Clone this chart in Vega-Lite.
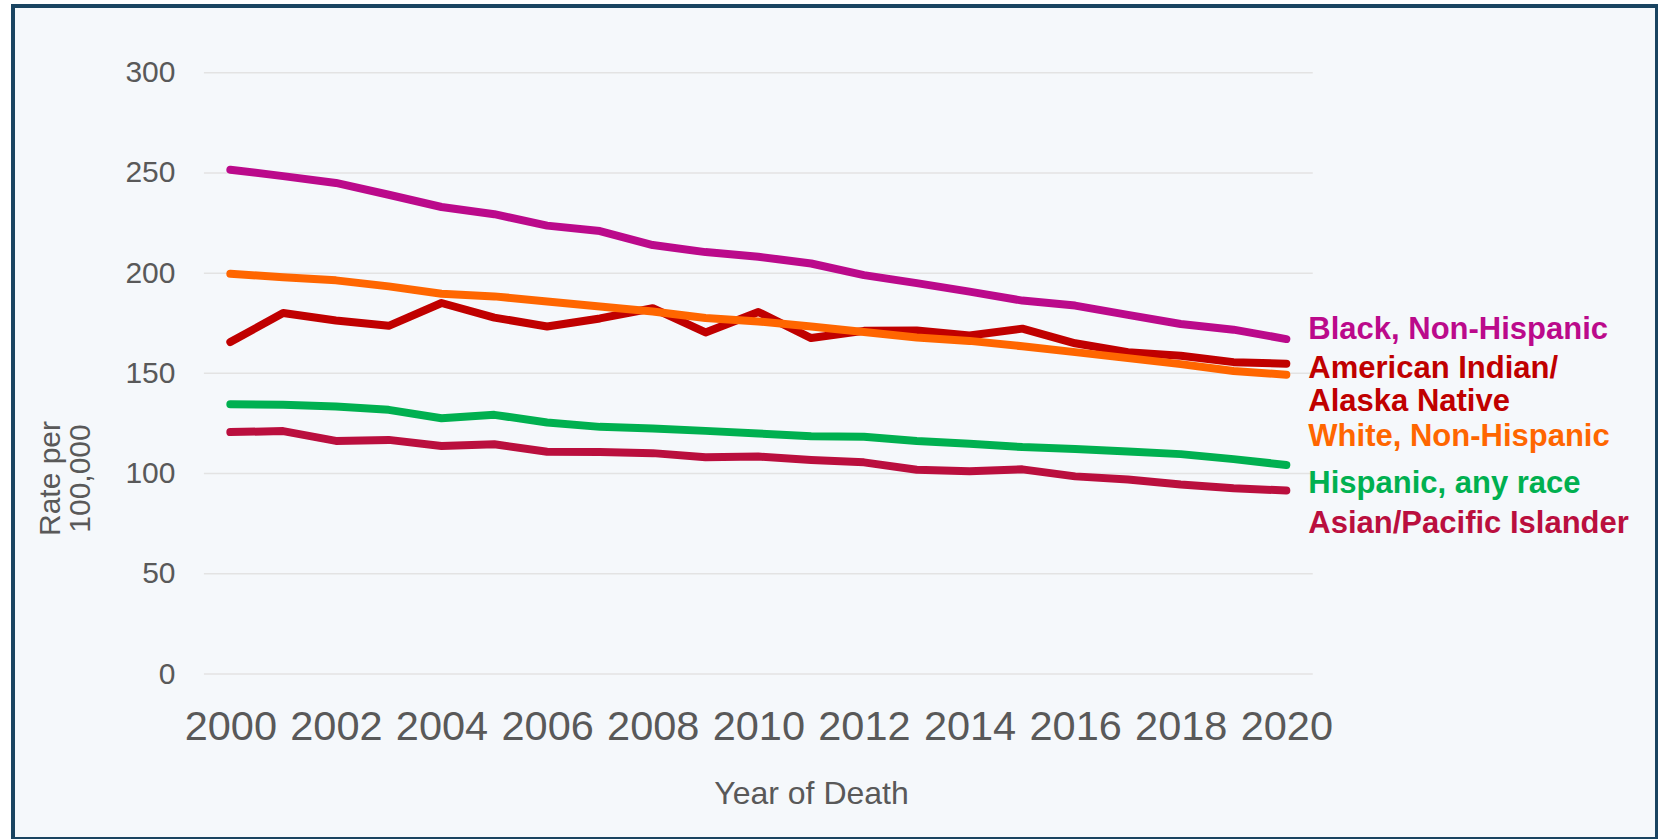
{
  "$schema": "https://vega.github.io/schema/vega-lite/v6.json",
  "width": 1644,
  "height": 833,
  "autosize": {"type": "none"},
  "padding": {"left": 13, "top": 6, "right": 1, "bottom": 0},
  "background": "#ffffff",
  "config": {
    "view": {"fill": "#F5F8FB", "stroke": "#1A4461", "strokeWidth": 4},
    "font": "Liberation Sans"
  },
  "datasets": {
    "rates": [
      {"year": 2000, "asian": 120.7, "hisp": 134.6, "aian": 165.6, "white": 199.7, "black": 251.6},
      {"year": 2001, "asian": 121.2, "hisp": 134.3, "aian": 180.1, "white": 197.9, "black": 248.4},
      {"year": 2002, "asian": 116.3, "hisp": 133.5, "aian": 176.4, "white": 196.4, "black": 245.0},
      {"year": 2003, "asian": 116.8, "hisp": 131.8, "aian": 173.7, "white": 193.4, "black": 239.1},
      {"year": 2004, "asian": 113.8, "hisp": 127.6, "aian": 185.1, "white": 189.7, "black": 233.0},
      {"year": 2005, "asian": 114.6, "hisp": 129.3, "aian": 177.8, "white": 188.4, "black": 229.4},
      {"year": 2006, "asian": 110.9, "hisp": 125.5, "aian": 173.4, "white": 185.9, "black": 223.7},
      {"year": 2007, "asian": 110.7, "hisp": 123.3, "aian": 177.4, "white": 183.4, "black": 221.0},
      {"year": 2008, "asian": 110.2, "hisp": 122.5, "aian": 182.5, "white": 180.9, "black": 214.0},
      {"year": 2009, "asian": 108.1, "hisp": 121.3, "aian": 170.4, "white": 177.6, "black": 210.5},
      {"year": 2010, "asian": 108.5, "hisp": 120.0, "aian": 180.6, "white": 175.9, "black": 208.2},
      {"year": 2011, "asian": 106.8, "hisp": 118.6, "aian": 167.6, "white": 173.4, "black": 204.8},
      {"year": 2012, "asian": 105.6, "hisp": 118.4, "aian": 171.2, "white": 170.6, "black": 199.0},
      {"year": 2013, "asian": 101.9, "hisp": 116.2, "aian": 171.4, "white": 167.9, "black": 195.0},
      {"year": 2014, "asian": 101.2, "hisp": 114.9, "aian": 168.9, "white": 166.2, "black": 190.8},
      {"year": 2015, "asian": 102.1, "hisp": 113.2, "aian": 172.3, "white": 163.5, "black": 186.3},
      {"year": 2016, "asian": 98.6, "hisp": 112.2, "aian": 165.0, "white": 160.6, "black": 183.8},
      {"year": 2017, "asian": 97.0, "hisp": 111.0, "aian": 160.5, "white": 157.6, "black": 179.2},
      {"year": 2018, "asian": 94.5, "hisp": 109.7, "aian": 158.8, "white": 154.6, "black": 174.6},
      {"year": 2019, "asian": 92.7, "hisp": 107.2, "aian": 155.6, "white": 151.2, "black": 171.8},
      {"year": 2020, "asian": 91.5, "hisp": 104.3, "aian": 154.8, "white": 149.3, "black": 167.1}
    ],
    "grid": [{"v": 0}, {"v": 50}, {"v": 100}, {"v": 150}, {"v": 200}, {"v": 250}, {"v": 300}]
  },
  "layer": [
    {
      "data": {"name": "grid"},
      "mark": {"type": "rule", "color": "#E3E3E3", "strokeWidth": 1.5},
      "encoding": {
        "y": {"field": "v", "type": "quantitative", "scale": {"domain": [-82.32, 333.28], "nice": false, "zero": false}},
        "x": {"datum": 1999.5, "type": "quantitative", "scale": {"domain": [1995.884, 2027.02], "nice": false, "zero": false}},
        "x2": {"datum": 2020.5}
      }
    },
    {
      "data": {"name": "rates"},
      "transform": [{"fold": ["asian", "hisp", "aian", "white", "black"], "as": ["series", "rate"]}],
      "mark": {"type": "line", "strokeWidth": 8, "strokeCap": "round", "strokeJoin": "round"},
      "encoding": {
        "x": {
          "field": "year", "type": "quantitative",
          "scale": {"domain": [1995.884, 2027.02], "nice": false, "zero": false},
          "axis": {
            "values": [2000, 2002, 2004, 2006, 2008, 2010, 2012, 2014, 2016, 2018, 2020],
            "format": "d", "grid": false, "domain": false, "ticks": false,
            "offset": -100, "labelPadding": 0, "labelBaseline": "alphabetic",
            "labelFontSize": 41.5, "labelColor": "#595959", "labelFont": "Liberation Sans",
            "labelFlush": false, "labelOverlap": false, "labelBound": false,
            "title": "Year of Death", "titleFontSize": 32, "titleFontWeight": "normal",
            "titleColor": "#595959", "titleFont": "Liberation Sans",
            "titleX": 798, "titleY": 64, "titleBaseline": "alphabetic", "titleAlign": "center", "titleAnchor": "start"
          }
        },
        "y": {
          "field": "rate", "type": "quantitative",
          "scale": {"domain": [-82.32, 333.28], "nice": false, "zero": false},
          "axis": {
            "values": [0, 50, 100, 150, 200, 250, 300],
            "grid": false, "domain": false, "ticks": false,
            "offset": -162, "labelPadding": 0, "labelAlign": "right", "labelBaseline": "middle",
            "labelFontSize": 30, "labelColor": "#595959", "labelFont": "Liberation Sans",
            "labelOverlap": false, "labelBound": false, "labelFlush": false,
            "title": ["Rate per", "100,000"], "titleFontSize": 30, "titleFontWeight": "normal",
            "titleColor": "#595959", "titleFont": "Liberation Sans",
            "titleX": -116, "titleY": 472, "titleBaseline": "alphabetic", "titleAlign": "center",
            "titleAngle": 270, "titleLineHeight": 30, "titleAnchor": "start"
          }
        },
        "color": {
          "field": "series", "type": "nominal",
          "scale": {"domain": ["asian", "hisp", "aian", "white", "black"], "range": ["#BA0F3E", "#00B050", "#C00000", "#FF6600", "#BB0A8B"]},
          "legend": null
        }
      }
    },
    {
      "data": {"name": "rates"},
      "transform": [{"fold": ["asian", "hisp", "aian", "white", "black"], "as": ["series", "rate"]}, {"filter": "datum.year == 2020 && datum.series == 'black'"}],
      "mark": {"type": "text", "text": "Black, Non-Hispanic", "align": "left", "baseline": "alphabetic", "dx": 22, "dy": 0, "fontSize": 31, "fontWeight": "bold", "color": "#BB0A8B", "font": "Liberation Sans"},
      "encoding": {"x": {"field": "year", "type": "quantitative"}, "y": {"field": "rate", "type": "quantitative"}}
    },
    {
      "data": {"name": "rates"},
      "transform": [{"fold": ["asian", "hisp", "aian", "white", "black"], "as": ["series", "rate"]}, {"filter": "datum.year == 2020 && datum.series == 'aian'"}],
      "mark": {"type": "text", "text": ["American Indian/", "Alaska Native"], "lineHeight": 33, "align": "left", "baseline": "alphabetic", "dx": 22, "dy": 14.5, "fontSize": 31, "fontWeight": "bold", "color": "#C00000", "font": "Liberation Sans"},
      "encoding": {"x": {"field": "year", "type": "quantitative"}, "y": {"field": "rate", "type": "quantitative"}}
    },
    {
      "data": {"name": "rates"},
      "transform": [{"fold": ["asian", "hisp", "aian", "white", "black"], "as": ["series", "rate"]}, {"filter": "datum.year == 2020 && datum.series == 'white'"}],
      "mark": {"type": "text", "text": "White, Non-Hispanic", "align": "left", "baseline": "alphabetic", "dx": 22, "dy": 71.5, "fontSize": 31, "fontWeight": "bold", "color": "#FF6600", "font": "Liberation Sans"},
      "encoding": {"x": {"field": "year", "type": "quantitative"}, "y": {"field": "rate", "type": "quantitative"}}
    },
    {
      "data": {"name": "rates"},
      "transform": [{"fold": ["asian", "hisp", "aian", "white", "black"], "as": ["series", "rate"]}, {"filter": "datum.year == 2020 && datum.series == 'hisp'"}],
      "mark": {"type": "text", "text": "Hispanic, any race", "align": "left", "baseline": "alphabetic", "dx": 22, "dy": 28.4, "fontSize": 31, "fontWeight": "bold", "color": "#00B050", "font": "Liberation Sans"},
      "encoding": {"x": {"field": "year", "type": "quantitative"}, "y": {"field": "rate", "type": "quantitative"}}
    },
    {
      "data": {"name": "rates"},
      "transform": [{"fold": ["asian", "hisp", "aian", "white", "black"], "as": ["series", "rate"]}, {"filter": "datum.year == 2020 && datum.series == 'asian'"}],
      "mark": {"type": "text", "text": "Asian/Pacific Islander", "align": "left", "baseline": "alphabetic", "dx": 22, "dy": 42, "fontSize": 31, "fontWeight": "bold", "color": "#BA0F3E", "font": "Liberation Sans"},
      "encoding": {"x": {"field": "year", "type": "quantitative"}, "y": {"field": "rate", "type": "quantitative"}}
    }
  ]
}
